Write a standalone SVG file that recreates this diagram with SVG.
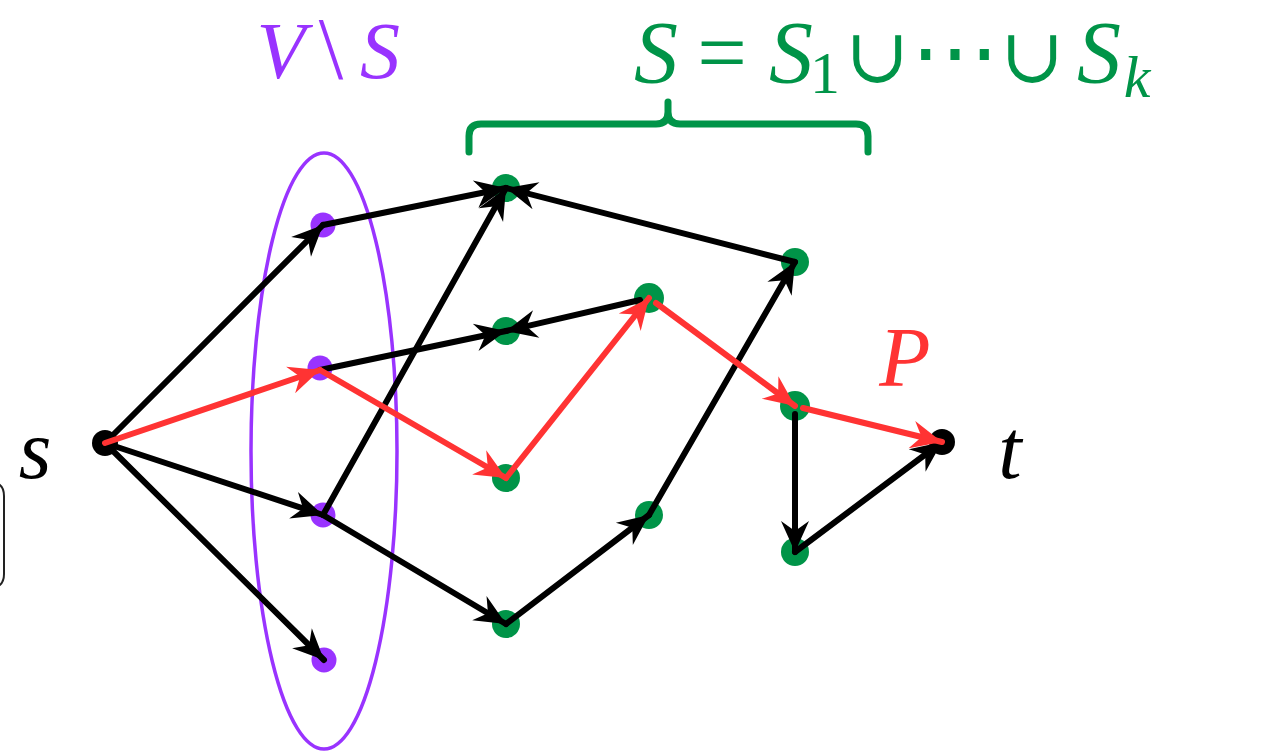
<svg xmlns="http://www.w3.org/2000/svg" width="1281" height="756" viewBox="0 0 1281 756">
<style>
.e{fill:none;stroke-width:6;stroke-linecap:round}
.k{stroke:#000}
.r{stroke:#ff3333}
.pv{fill:#9933ff}
.gv{fill:#009448}
.bv{fill:#000}
.tx{font-family:"Liberation Serif","DejaVu Serif","Noto Serif",serif}
</style>
<defs>
<marker id="ak" markerUnits="userSpaceOnUse" viewBox="-34 -17 36 34" refX="0" refY="0" markerWidth="36" markerHeight="34" orient="auto">
<path d="M0,0 L-31,-14 L-21,0 L-31,14 Z" fill="#000"/>
</marker>
<marker id="ar" markerUnits="userSpaceOnUse" viewBox="-34 -17 36 34" refX="0" refY="0" markerWidth="36" markerHeight="34" orient="auto">
<path d="M0,0 L-31,-14 L-21,0 L-31,14 Z" fill="#ff3333"/>
</marker>
</defs>
<rect width="1281" height="756" fill="#fff"/>
<path d="M-10,482 Q4,482 4,496 L4,574 Q4,588 -10,588" fill="none" stroke="#222" stroke-width="2"/>
<ellipse id="VS" cx="324" cy="451" rx="73" ry="298" fill="none" stroke="#9933ff" stroke-width="3.5"/>
<path id="brace" d="M469,152 L469,136 Q469,124 481,124 L656,124 Q668,124 668,112 L668,102 M668,112 Q668,124 680,124 L856,124 Q868,124 868,136 L868,152" fill="none" stroke="#009448" stroke-width="7" stroke-linecap="round"/>
<g id="s"><circle class="bv" cx="105" cy="443" r="13"/></g>
<g id="t"><circle class="bv" cx="942" cy="442" r="13"/></g>
<g id="p1"><circle class="pv" cx="323" cy="225" r="12.5"/></g>
<g id="p2"><circle class="pv" cx="320" cy="368" r="12.5"/></g>
<g id="p3"><circle class="pv" cx="323" cy="515" r="12.5"/></g>
<g id="p4"><circle class="pv" cx="324" cy="660" r="12.5"/></g>
<g id="g1"><circle class="gv" cx="506" cy="188" r="14"/></g>
<g id="g2"><circle class="gv" cx="506" cy="331" r="14"/></g>
<g id="g3"><circle class="gv" cx="506" cy="478" r="14"/></g>
<g id="g4"><circle class="gv" cx="506" cy="624" r="14"/></g>
<g id="g5"><circle class="gv" cx="649" cy="298" r="15"/></g>
<g id="g6"><circle class="gv" cx="649" cy="515" r="14"/></g>
<g id="g7"><circle class="gv" cx="795" cy="262" r="14"/></g>
<g id="g8"><circle class="gv" cx="795" cy="406" r="15"/></g>
<g id="g9"><circle class="gv" cx="795" cy="552" r="14"/></g>
<g id="connectors">
<line class="e k" x1="105" y1="443" x2="323" y2="225" marker-end="url(#ak)"/>
<line class="e k" x1="105" y1="443" x2="323" y2="515" marker-end="url(#ak)"/>
<line class="e k" x1="105" y1="443" x2="324" y2="660" marker-end="url(#ak)"/>
<line class="e k" x1="323" y1="225" x2="506" y2="188" marker-end="url(#ak)"/>
<line class="e k" x1="323" y1="515" x2="506" y2="188" marker-end="url(#ak)"/>
<line class="e k" x1="320" y1="370" x2="506" y2="331" marker-end="url(#ak)"/>
<line class="e k" x1="640" y1="300" x2="506" y2="331" marker-end="url(#ak)"/>
<line class="e k" x1="795" y1="262" x2="506" y2="188" marker-end="url(#ak)"/>
<line class="e k" x1="323" y1="515" x2="506" y2="624" marker-end="url(#ak)"/>
<line class="e k" x1="506" y1="624" x2="649" y2="515" marker-end="url(#ak)"/>
<line class="e k" x1="649" y1="515" x2="795" y2="262" marker-end="url(#ak)"/>
<line class="e k" x1="795" y1="414" x2="795" y2="552" marker-end="url(#ak)"/>
<line class="e k" x1="795" y1="552" x2="942" y2="442" marker-end="url(#ak)"/>
<line class="e r" x1="105" y1="443" x2="320" y2="370" marker-end="url(#ar)"/>
<line class="e r" x1="320" y1="370" x2="506" y2="478" marker-end="url(#ar)"/>
<line class="e r" x1="506" y1="478" x2="649" y2="298" marker-end="url(#ar)"/>
<line class="e r" x1="656" y1="303" x2="795" y2="406" marker-end="url(#ar)"/>
<line class="e r" x1="803" y1="408" x2="942" y2="442" marker-end="url(#ar)"/>
</g>
<g id="labels" text-anchor="middle">
<text class="tx" x="35" y="478" font-size="84" font-style="italic" fill="#000">s</text>
<text class="tx" x="1010" y="478" font-size="84" font-style="italic" fill="#000">t</text>
<text class="tx" x="905" y="386" font-size="84" font-style="italic" fill="#ff3333">P</text>
<text class="tx" y="78" font-size="80" fill="#9933ff"><tspan x="281" font-style="italic">V</tspan><tspan x="331" font-size="88">\</tspan><tspan x="380" font-style="italic">S</tspan></text>
<text class="tx" y="82" font-size="88" fill="#009448"><tspan x="656" font-style="italic">S</tspan><tspan x="722">=</tspan><tspan x="791" font-style="italic">S</tspan><tspan x="825" y="93" font-size="60">1</tspan><tspan x="877" y="82" font-size="76">∪</tspan><tspan x="955">⋯</tspan><tspan x="1032" font-size="76">∪</tspan><tspan x="1099" font-style="italic">S</tspan><tspan x="1137" y="97" font-size="60" font-style="italic">k</tspan></text>
</g>
</svg>
